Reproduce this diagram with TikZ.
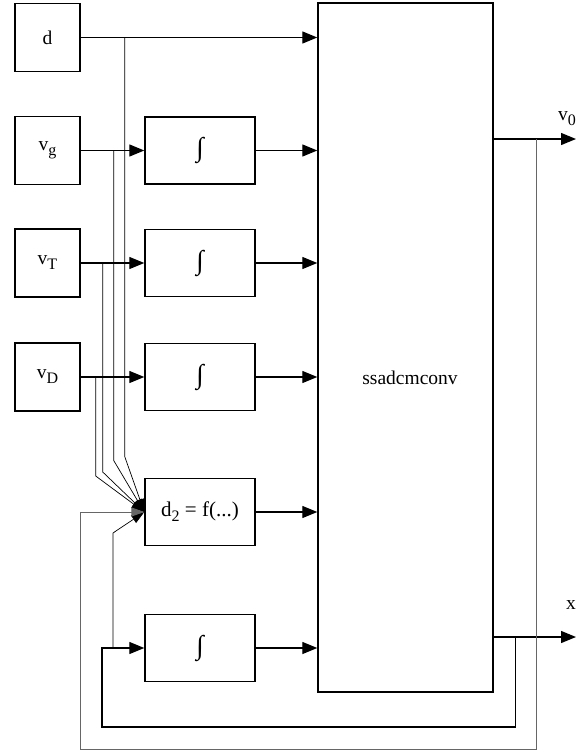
\documentclass[tikz,border=0pt]{standalone}
\usepackage{fontspec}
\setmainfont{Liberation Serif}
\usetikzlibrary{arrows.meta}

% large, low subscript
\newcommand{\lowsub}[1]{\raisebox{-5pt}{\fontsize{16}{18}\selectfont #1}}

\begin{document}
\begin{tikzpicture}[x=1pt, y=-1pt,
    every node/.style={font=\fontsize{19.5}{22}\selectfont},
    srcnode/.style={rectangle, draw, line width=1.4pt, minimum width=65, minimum height=68},
    intnode/.style={rectangle, draw, line width=1.4pt, minimum width=110, minimum height=67},
    integ/.style={intnode, font=\fontsize{27}{30}\selectfont},
    sysnode/.style={rectangle, draw, line width=1.4pt, minimum width=175, minimum height=689},
    sig/.style={line width=1.3pt, -{Triangle[length=15pt, width=12pt]}},
    tap/.style={line width=0.7pt, -{Triangle[length=13pt, width=9pt]}},
    ]
      \useasboundingbox (0,0) rectangle (576,752);

      %Nodes
      \node (d)    [srcnode] at (47.5,37.5)  {d};
      \node (vg)   [srcnode] at (47.5,150.5) {v\lowsub{g}};
      \node (vT)   [srcnode] at (47.5,263)   {v\lowsub{T}};
      \node (vD)   [srcnode] at (47.5,377)   {v\lowsub{D}};

      \node (intg) [integ]   at (200,150.5)  {∫};
      \node (intT) [integ]   at (200,263)    {∫};
      \node (intD) [integ]   at (200,377)    {∫};
      \node (dtwo) [intnode, font=\fontsize{21}{24}\selectfont] at (200,512) {d\lowsub{2} = f(...)};
      \node (intx) [integ]   at (200,648)    {∫};

      \node (sys)  [sysnode] at (405.5,347.5) {};
      \node (syslabel) at (410,378) {ssadcmconv};

      \coordinate (vo) at (576,139);
      \coordinate (xo) at (576,637);
      \node (volabel) [anchor=south east, inner sep=0pt] at (576,126) {v\lowsub{0}};
      \node (xlabel)  [anchor=south east, inner sep=0pt] at (576,610) {x};

      %Lines
      \draw[sig] (d.east)    -- (d.east -| sys.west);
      \draw[sig] (vg.east)   -- (intg.west);
      \draw[sig] (vT.east)   -- (intT.west);
      \draw[sig] (vD.east)   -- (intD.west);
      \foreach \blk in {intg, intT, intD, dtwo, intx}
        \draw[sig] (\blk.east) -- (\blk.east -| sys.west);

      \draw[sig] (vo -| sys.east) -- (vo);
      \draw[sig] (xo -| sys.east) -- (xo);

      % taps feeding d2
      \foreach \src/\dx/\len in {d/44/419, vg/33/310, vT/22/209, vD/15/99}
        \draw[tap] ([xshift=\dx]\src.east) -- ++(0,\len) -- (dtwo.west);

      % state x back into the last integrator
      \draw[sig] ([xshift=22]xo -| sys.east) -- ++(0,90) -| (102,648) -- (intx.west);
      \draw[tap] (113,648) -- (113,533) -- (dtwo.west);

      % v0 back into d2
      \draw[tap, gray!80!black, line width=1pt] ([xshift=43]vo -| sys.east) -- ++(0,610) -| (80,512) -- (dtwo.west);
    \end{tikzpicture}
\end{document}
